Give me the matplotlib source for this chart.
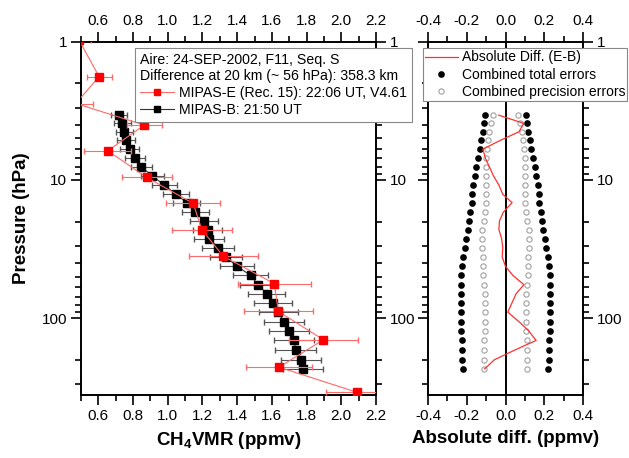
import matplotlib
matplotlib.use("Agg")
import matplotlib.pyplot as plt
from matplotlib.ticker import FixedLocator, FixedFormatter, LogLocator, NullFormatter, MultipleLocator
from matplotlib.lines import Line2D

plt.rcParams['font.family'] = ['Liberation Sans', 'DejaVu Sans']
plt.rcParams['axes.unicode_minus'] = False
plt.rcParams['mathtext.fontset'] = 'custom'
plt.rcParams['mathtext.rm'] = 'Liberation Sans:bold'
plt.rcParams['mathtext.bf'] = 'Liberation Sans:bold'

# MIPAS-B levels (hPa), CH4 (ppmv) and errors
p_b = [3.40, 3.90, 4.49, 5.16, 5.99, 7.0, 8.05, 9.35, 10.9, 12.7, 14.6, 17.1, 19.8, 22.9, 26.6,
       30.9, 36.1, 42.2, 49.1, 57.3, 66.6, 77.8, 90.5, 106.9, 124, 145, 171, 200, 233]
ch4_b = [0.719, 0.738, 0.75, 0.761, 0.78, 0.811, 0.848, 0.911, 0.98, 1.048, 1.109, 1.159, 1.209,
         1.23, 1.239, 1.29, 1.336, 1.399, 1.478, 1.52, 1.57, 1.608, 1.637, 1.67, 1.699, 1.729,
         1.737, 1.77, 1.781]
err_b = [0.048, 0.05, 0.05, 0.052, 0.053, 0.057, 0.061, 0.065, 0.072, 0.075, 0.077, 0.079, 0.081,
         0.083, 0.085, 0.092, 0.094, 0.097, 0.101, 0.104, 0.108, 0.11, 0.112, 0.113, 0.116, 0.114,
         0.117, 0.115, 0.115]

# MIPAS-E (Rec. 15)
p_e = [0.98, 1.79, 2.8, 4.01, 6.16, 9.6, 14.8, 22.9, 35.7, 56.3, 89.4, 143.4, 226.5, 343.7]
ch4_e = [0.49, 0.604, 0.47, 0.865, 0.654, 0.879, 1.147, 1.196, 1.32, 1.614, 1.637, 1.897, 1.641, 2.089]
err_e = [0.07, 0.072, 0.1, 0.1, 0.135, 0.145, 0.155, 0.173, 0.2, 0.21, 0.2, 0.2, 0.19, 0.18]

# differences (E-B) and combined errors at MIPAS-B levels
diff = [-0.035, 0.095, 0.069, -0.025, -0.117, -0.103, -0.083, -0.062, -0.034, -0.014, 0.034,
        -0.011, -0.031, -0.034, -0.02, -0.014, -0.017, 0.0, 0.038, 0.095, 0.055, 0.033, 0.012,
        0.072, 0.12, 0.158, 0.045, -0.057, -0.108]
tot_err = [0.104, 0.11, 0.118, 0.125, 0.132, 0.14, 0.15, 0.159, 0.166, 0.171, 0.175, 0.182, 0.189,
           0.195, 0.202, 0.209, 0.217, 0.223, 0.23, 0.232, 0.232, 0.232, 0.231, 0.231, 0.228,
           0.227, 0.225, 0.224, 0.221]
prec_err = [0.066, 0.075, 0.083, 0.089, 0.097, 0.103, 0.103, 0.103, 0.103, 0.103, 0.102, 0.106,
            0.112, 0.12, 0.12, 0.12, 0.118, 0.118, 0.115, 0.111, 0.108, 0.106, 0.106, 0.106, 0.108,
            0.11, 0.112, 0.112, 0.113]

W, H = 629, 458
fig = plt.figure(figsize=(W / 100, H / 100), dpi=100)
ax1 = fig.add_axes([81 / W, 1 - 395 / H, 295 / W, 353.3 / H])
ax2 = fig.add_axes([428 / W, 1 - 395 / H, 155 / W, 353.3 / H])

# left panel
ax1.errorbar(ch4_b, p_b, xerr=err_b, fmt='-s', color='#333333', mfc='k', mec='k', ms=5.5,
             lw=0.8, ecolor='#555555', elinewidth=0.8, capsize=2.5, zorder=3)
ax1.errorbar(ch4_e, p_e, xerr=err_e, fmt='-s', color='#ff6a6a', mfc='red', mec='red', ms=5.5,
             lw=0.8, ecolor='#ff6a6a', elinewidth=0.8, capsize=2.5, zorder=4)

# right panel
ax2.axvline(0, color='k', lw=1.4, zorder=1)
ax2.plot(diff, p_b, color='#ff3030', lw=0.9, zorder=4)
ax2.plot([-e for e in tot_err], p_b, 'o', color='k', ms=3.8, zorder=3)
ax2.plot(tot_err, p_b, 'o', color='k', ms=3.8, zorder=3)
ax2.plot([-e for e in prec_err], p_b, 'o', mfc='white', mec='#a0a0a0', mew=0.8, ms=3.8, zorder=3)
ax2.plot(prec_err, p_b, 'o', mfc='white', mec='#a0a0a0', mew=0.8, ms=3.8, zorder=3)

for ax in (ax1, ax2):
    ax.set_yscale('log')
    ax.set_ylim(360, 1)
    ax.yaxis.set_major_locator(FixedLocator([1, 10, 100]))
    ax.yaxis.set_major_formatter(FixedFormatter(['1', '10', '100']))
    ax.yaxis.set_minor_locator(LogLocator(base=10, subs=range(2, 10)))
    ax.yaxis.set_minor_formatter(NullFormatter())
    ax.xaxis.set_minor_locator(MultipleLocator(0.1))
    ax.tick_params(which='both', direction='out', top=True, right=True, width=1.2,
                   labelsize=11, colors='k')
    ax.tick_params(which='major', length=7, pad=3)
    ax.tick_params(which='minor', length=4)
    for s in ax.spines.values():
        s.set_linewidth(1.4)

ax1.set_xlim(0.5, 2.2)
ax1.set_xticks([0.6, 0.8, 1.0, 1.2, 1.4, 1.6, 1.8, 2.0, 2.2])
ax1.set_xticklabels(['0.6', '0.8', '1.0', '1.2', '1.4', '1.6', '1.8', '2.0', '2.2'])
ax1.tick_params(labeltop=True, labelright=True)

ax2.set_xlim(-0.4, 0.4)
ax2.set_xticks([-0.4, -0.2, 0.0, 0.2, 0.4])
ax2.set_xticklabels(['-0.4', '-0.2', '0.0', '0.2', '0.4'])
ax2.tick_params(labeltop=True, labelleft=False, labelright=True)

ax1.set_xlabel(r'CH$_4$VMR (ppmv)', fontsize=13.5, fontweight='bold', labelpad=5)
ax2.set_xlabel('Absolute diff. (ppmv)', fontsize=13.5, fontweight='bold', labelpad=5)
ax1.set_ylabel('Pressure (hPa)', fontsize=13.5, fontweight='bold', labelpad=8)

# legends
h_e = Line2D([], [], color='#ff6a6a', lw=0.8, marker='s', mfc='red', mec='red', ms=3.8)
h_b = Line2D([], [], color='#333333', lw=0.8, marker='s', mfc='k', mec='k', ms=3.8)
leg1 = ax1.legend([h_e, h_b], ['MIPAS-E (Rec. 15): 22:06 UT, V4.61', 'MIPAS-B: 21:50 UT'],
                  title='Aire: 24-SEP-2002, F11, Seq. S\nDifference at 20 km (~ 56 hPa): 358.3 km',
                  alignment='left', loc='upper left', bbox_to_anchor=(135 / W, 1 - 48.3 / H),
                  bbox_transform=fig.transFigure, fontsize=10.2, title_fontsize=10.2,
                  fancybox=False, framealpha=1, edgecolor='#888888', handlelength=2.4,
                  handletextpad=0.35, labelspacing=0.2, borderpad=0.35, borderaxespad=0)
leg1.get_frame().set_linewidth(0.8)
leg1.set_zorder(10)

h_d = Line2D([], [], color='#ff3030', lw=0.9)
h_t = Line2D([], [], ls='none', marker='o', color='k', ms=3.8)
h_p = Line2D([], [], ls='none', marker='o', mfc='white', mec='#a0a0a0', mew=0.8, ms=3.8)
leg2 = ax2.legend([h_d, h_t, h_p], ['Absolute Diff. (E-B)', 'Combined total errors',
                                    'Combined precision errors'],
                  loc='upper left', bbox_to_anchor=(422.7 / W, 1 - 48.3 / H),
                  bbox_transform=fig.transFigure, fontsize=10, fancybox=False, framealpha=1,
                  edgecolor='#888888', handlelength=2.4, handletextpad=0.25, labelspacing=0.25,
                  borderpad=0.15, borderaxespad=0)
leg2.get_frame().set_linewidth(0.8)
leg2.set_zorder(10)

fig.savefig('out.png', dpi=100)
